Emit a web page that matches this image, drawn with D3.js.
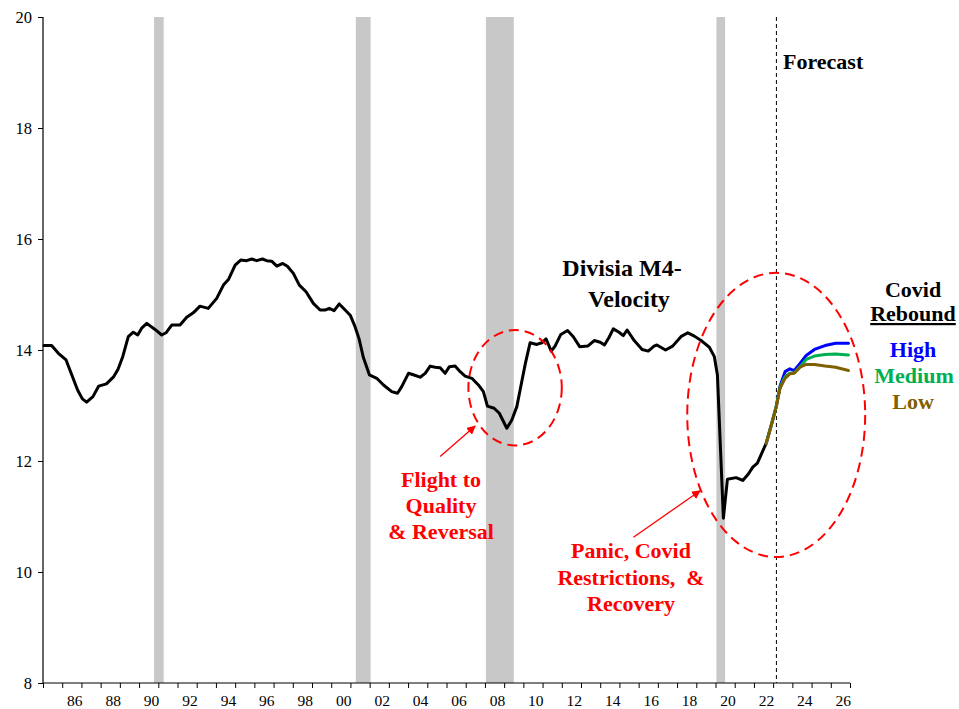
<!DOCTYPE html>
<html>
<head>
<meta charset="utf-8">
<script src="https://cdn.jsdelivr.net/npm/d3@7"></script>
<style>
  html, body { margin: 0; padding: 0; background: #fff; }
  svg { display: block; font-family: "Liberation Serif", "Times New Roman", serif; }
</style>
</head>
<body>
<svg id="chart" width="959" height="709"></svg>
<script>
// ---------- DATA ----------
const histYears = [1985.05,1985.45,1985.8,1986.2,1986.5,1986.8,1987.05,1987.27,1987.6,1987.9,1988.3,1988.66,1988.9,1989.15,1989.44,1989.7,1989.93,1990.15,1990.4,1990.83,1991.18,1991.4,1991.7,1992.13,1992.48,1992.82,1993.17,1993.6,1994.04,1994.39,1994.65,1995.0,1995.29,1995.6,1995.86,1996.12,1996.42,1996.64,1996.9,1997.17,1997.48,1997.72,1998.03,1998.34,1998.69,1999.07,1999.42,1999.68,1999.9,2000.15,2000.42,2000.7,2001.0,2001.24,2001.45,2001.67,2001.99,2002.37,2002.72,2003.15,2003.45,2003.67,2004.02,2004.31,2004.63,2004.89,2005.15,2005.41,2005.67,2005.93,2006.15,2006.45,2006.71,2006.97,2007.32,2007.66,2007.92,2008.13,2008.48,2008.75,2009.14,2009.4,2009.66,2009.9,2010.1,2010.35,2010.7,2010.96,2011.18,2011.45,2011.65,2011.95,2012.3,2012.6,2012.93,2013.35,2013.69,2014.0,2014.22,2014.45,2014.68,2014.98,2015.2,2015.4,2015.77,2016.18,2016.5,2016.8,2016.95,2017.15,2017.4,2017.77,2018.2,2018.56,2018.9,2019.29,2019.68,2019.94,2020.1,2020.41,2020.62,2021.07,2021.42,2021.72,2021.94,2022.18,2022.41,2022.64];
const histValues = [14.08,14.08,13.94,13.82,13.55,13.28,13.12,13.06,13.16,13.35,13.39,13.51,13.65,13.88,14.24,14.32,14.27,14.40,14.48,14.37,14.27,14.31,14.45,14.45,14.59,14.67,14.79,14.75,14.93,15.17,15.27,15.53,15.62,15.61,15.64,15.61,15.64,15.61,15.60,15.51,15.56,15.51,15.38,15.17,15.05,14.84,14.72,14.72,14.75,14.71,14.83,14.73,14.62,14.42,14.20,13.87,13.55,13.49,13.37,13.25,13.22,13.34,13.58,13.55,13.51,13.58,13.71,13.69,13.68,13.58,13.70,13.71,13.61,13.53,13.49,13.37,13.25,12.99,12.95,12.86,12.59,12.74,12.98,13.40,13.75,14.13,14.10,14.13,14.20,13.98,14.07,14.28,14.35,14.24,14.06,14.07,14.17,14.14,14.09,14.22,14.38,14.32,14.26,14.36,14.17,14.01,13.98,14.07,14.09,14.05,14.00,14.07,14.24,14.31,14.25,14.16,14.05,13.88,13.55,10.97,11.67,11.70,11.65,11.77,11.89,11.96,12.14,12.32];

const fcYears  = [2022.64,2022.93,2023.16,2023.36,2023.62,2023.87,2024.1,2024.4,2024.72,2025.15,2025.7,2026.25,2026.92];
const fcHigh   = [12.32,12.68,12.98,13.35,13.61,13.66,13.63,13.76,13.90,14.01,14.08,14.12,14.12];
const fcMedium = [12.32,12.68,12.98,13.33,13.52,13.58,13.59,13.70,13.83,13.89,13.92,13.93,13.91];
const fcLow    = [12.32,12.68,12.98,13.31,13.49,13.57,13.58,13.69,13.74,13.74,13.71,13.69,13.63];

const recessionStarts = [1990.78, 2001.28, 2008.05, 2020.05];
const recessionEnds   = [1991.28, 2002.05, 2009.5, 2020.5];

const forecastStart = 2023.17;

const yTicks = [8, 10, 12, 14, 16, 18, 20];
const xTickYears = d3.range(1985, 2028);
const xLabelYears = d3.range(1986, 2027, 2);
const xLabels = xLabelYears.map(y => String(y % 100).padStart(2, "0"));

// ---------- SETUP ----------
const W = 959, H = 709;
const margin = { left: 43, right: 109, top: 17, bottom: 26 };
const svg = d3.select("#chart");

const x = d3.scaleLinear().domain([1985, 2027]).range([margin.left, W - margin.right]);
const y = d3.scaleLinear().domain([8, 20]).range([H - margin.bottom, margin.top]);

// recession bands
svg.append("g").selectAll("rect")
  .data(recessionStarts.map((s, i) => ({ s, e: recessionEnds[i] })))
  .join("rect")
  .attr("x", d => x(d.s))
  .attr("width", d => x(d.e) - x(d.s))
  .attr("y", y(20))
  .attr("height", y(8) - y(20))
  .attr("fill", "#c8c8c8");

// forecast divider
svg.append("line")
  .attr("x1", x(forecastStart)).attr("x2", x(forecastStart))
  .attr("y1", y(20)).attr("y2", y(8))
  .attr("stroke", "#000").attr("stroke-width", 1)
  .attr("stroke-dasharray", "4,3");

// axes
const yAxis = svg.append("g")
  .attr("transform", `translate(${margin.left},0)`)
  .call(d3.axisLeft(y).tickValues(yTicks).tickSize(5).tickPadding(6).tickFormat(d3.format("d")));
yAxis.select(".domain").attr("d", `M0,${y(20)}V${y(8)}`);

const xAxis = svg.append("g")
  .attr("transform", `translate(0,${y(8)})`)
  .call(d3.axisBottom(x).tickValues(xTickYears).tickSize(5).tickFormat(""));
xAxis.select(".domain").attr("d", `M${x(1985)},0H${x(2027)}`);

svg.selectAll(".tick line").attr("stroke", "#000");
svg.selectAll(".domain").attr("stroke", "#000").attr("stroke-width", 1.2);
yAxis.selectAll("text")
  .attr("font-family", "Liberation Serif, serif")
  .attr("font-size", 16.5).attr("fill", "#000");

svg.append("g").selectAll("text")
  .data(xLabelYears)
  .join("text")
  .attr("x", (d) => x(d + 0.65))
  .attr("y", y(8) + 18)
  .attr("dy", "0.35em")
  .attr("text-anchor", "middle")
  .attr("font-size", 15.5)
  .attr("fill", "#000")
  .text((d, i) => xLabels[i]);

// lines
const line = d3.line().x(d => x(d[0])).y(d => y(d[1]));
const addLine = (xs, vs, color) => svg.append("path")
  .datum(xs.map((t, i) => [t, vs[i]]))
  .attr("d", line)
  .attr("fill", "none")
  .attr("stroke", color)
  .attr("stroke-width", 3)
  .attr("stroke-linejoin", "round")
  .attr("stroke-linecap", "round");

addLine(histYears, histValues, "#000");
addLine(fcYears, fcHigh, "#0000ff");
addLine(fcYears, fcMedium, "#00b050");
addLine(fcYears, fcLow, "#7f6000");

// annotations: ellipses
const ellipses = [
  { cx: 2009.57, cy: 13.32, rx: 2.43, ry: 1.04 },
  { cx: 2023.16, cy: 12.83, rx: 4.63, ry: 2.56 }
];
svg.append("g").selectAll("ellipse")
  .data(ellipses)
  .join("ellipse")
  .attr("cx", d => x(d.cx))
  .attr("cy", d => y(d.cy))
  .attr("rx", d => x(d.cx + d.rx) - x(d.cx))
  .attr("ry", d => y(d.cy - d.ry) - y(d.cy))
  .attr("fill", "none")
  .attr("stroke", "#ff0000")
  .attr("stroke-width", 2)
  .attr("stroke-dasharray", "10,6");

// arrows
svg.append("defs").append("marker")
  .attr("id", "arrow")
  .attr("viewBox", "0 0 10 10")
  .attr("refX", 9).attr("refY", 5)
  .attr("markerWidth", 9).attr("markerHeight", 9)
  .attr("markerUnits", "userSpaceOnUse")
  .attr("orient", "auto")
  .append("path").attr("d", "M0,0L10,5L0,10Z").attr("fill", "#ff0000");

const arrows = [
  { x1: 2005.67, y1: 12.08, x2: 2007.49, y2: 12.63 },
  { x1: 2015.73, y1: 10.625, x2: 2019.2, y2: 11.465 }
];
svg.append("g").selectAll("line")
  .data(arrows)
  .join("line")
  .attr("x1", d => x(d.x1)).attr("y1", d => y(d.y1))
  .attr("x2", d => x(d.x2)).attr("y2", d => y(d.y2))
  .attr("stroke", "#ff0000").attr("stroke-width", 1.3)
  .attr("marker-end", "url(#arrow)");

// text annotations
function multiText(lines, cxs, y0, lh, size, color) {
  const t = svg.append("text")
    .attr("text-anchor", "middle")
    .attr("font-weight", "bold")
    .attr("font-size", size)
    .attr("fill", color);
  lines.forEach((s, i) => {
    t.append("tspan").attr("x", cxs[i]).attr("y", y0 + i * lh).text(s);
  });
  return t;
}
multiText(["Divisia M4-", "Velocity"], [622, 629], 276, 31, 24, "#000");
multiText(["Flight to", "Quality", "& Reversal"], [441, 441, 441], 487, 26, 22, "#ff0000");
multiText(["Panic, Covid", "Restrictions,  &", "Recovery"], [631, 631, 631], 558, 26.5, 22, "#ff0000")
  .style("white-space", "pre");

svg.append("text")
  .attr("x", 783).attr("y", 69)
  .attr("font-weight", "bold").attr("font-size", 22).attr("fill", "#000")
  .text("Forecast");

svg.append("text").attr("x", 913).attr("y", 297).attr("text-anchor", "middle")
  .attr("font-weight", "bold").attr("font-size", 22).attr("fill", "#000").text("Covid");
svg.append("text").attr("x", 913).attr("y", 321).attr("text-anchor", "middle")
  .attr("font-weight", "bold").attr("font-size", 22).attr("fill", "#000")
  .attr("text-decoration", "underline").text("Rebound");
svg.append("text").attr("x", 913).attr("y", 357).attr("text-anchor", "middle")
  .attr("font-weight", "bold").attr("font-size", 22).attr("fill", "#0000ff").text("High");
svg.append("text").attr("x", 914).attr("y", 383).attr("text-anchor", "middle")
  .attr("font-weight", "bold").attr("font-size", 22).attr("fill", "#00b050").text("Medium");
svg.append("text").attr("x", 913).attr("y", 409).attr("text-anchor", "middle")
  .attr("font-weight", "bold").attr("font-size", 22).attr("fill", "#7f6000").text("Low");
</script>
</body>
</html>
